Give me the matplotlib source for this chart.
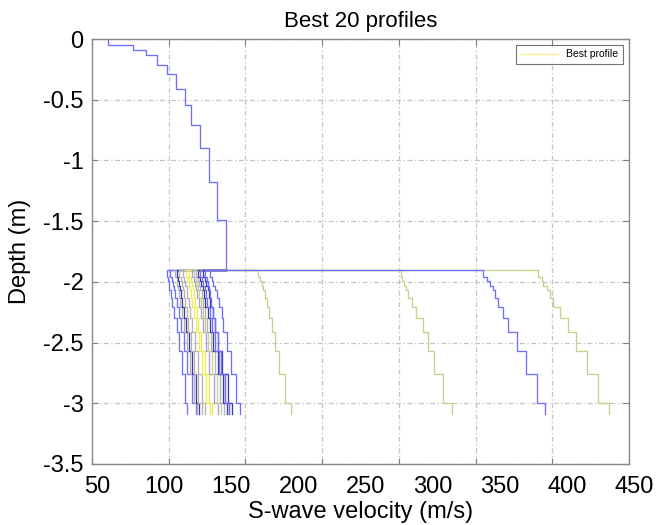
import numpy as np
import matplotlib.pyplot as plt
from matplotlib.lines import Line2D
from matplotlib.transforms import ScaledTranslation

plt.rcParams['font.family'] = ['Liberation Sans', 'DejaVu Sans']
plt.rcParams['axes.unicode_minus'] = False

# layer boundaries (m), shared by every profile
top_bounds = [0, 0.05, 0.09, 0.13, 0.21, 0.29, 0.41, 0.54, 0.71, 0.90, 1.18, 1.49, 1.9]
deep_bounds = [1.9, 1.96, 1.99, 2.03, 2.07, 2.13, 2.21, 2.30, 2.41, 2.57, 2.76, 3.0, 3.09]

# fixed upper part (m/s)
top_vs = [62.1, 80.3, 90.2, 98.6, 106.0, 112.6, 119.1, 124.0, 130.4, 137.1, 143.3, 149.8]

# lower part of the 20 best profiles (m/s), one list per profile
vs_01 = [106.0, 106.5, 107.0, 107.5, 108.5, 109.5, 111.0, 113.0, 114.9, 116.7, 119.2, 120.9]
vs_02 = [108.1, 109.5, 110.2, 111.2, 112.0, 113.0, 114.5, 116.1, 118.4, 121.1, 124.6, 127.5]
vs_03 = [111.8, 113.0, 113.6, 114.4, 115.1, 115.9, 117.2, 118.5, 120.5, 122.8, 125.7, 128.2]
vs_04 = [113.3, 114.4, 115.1, 115.9, 116.6, 117.4, 118.7, 120.0, 122.0, 124.3, 127.2, 129.7]
vs_05 = [114.8, 116.0, 116.7, 117.5, 118.2, 119.1, 120.4, 121.8, 123.9, 126.3, 129.3, 131.9]
vs_06 = [117.8, 118.9, 119.6, 120.4, 121.1, 121.9, 123.2, 124.5, 126.5, 128.8, 131.7, 134.2]
vs_07 = [120.0, 121.3, 122.0, 122.9, 123.6, 124.5, 125.9, 127.3, 129.5, 132.0, 135.2, 137.9]
vs_08 = [122.3, 123.5, 124.2, 125.0, 125.7, 126.6, 127.9, 129.3, 131.4, 133.8, 136.8, 139.4]
vs_09 = [124.5, 125.9, 126.6, 127.6, 128.4, 129.4, 130.9, 132.5, 134.8, 137.5, 141.0, 143.9]
vs_10 = [126.0, 127.4, 128.2, 129.2, 130.0, 131.0, 132.6, 134.2, 136.7, 139.5, 143.1, 146.1]
vs_11 = [127.5, 129.0, 129.8, 130.8, 131.7, 132.7, 134.4, 136.0, 138.5, 141.4, 145.2, 148.3]
vs_12 = [129.0, 130.5, 131.4, 132.5, 133.3, 134.4, 136.1, 137.9, 140.4, 143.5, 147.4, 150.6]
vs_13 = [130.4, 131.9, 132.8, 133.9, 134.7, 135.8, 137.6, 139.3, 141.9, 144.9, 148.8, 152.1]
vs_14 = [132.7, 134.2, 135.1, 136.2, 137.0, 138.1, 139.8, 141.6, 144.1, 147.2, 151.1, 154.3]
vs_15 = [134.2, 135.4, 136.2, 137.0, 137.8, 138.7, 140.1, 141.5, 143.6, 146.1, 149.3, 152.0]
vs_16 = [137.9, 139.2, 140.4, 141.7, 142.9, 144.9, 146.7, 147.9, 150.4, 153.4, 157.4, 160.2]
vs_17 = [173.8, 175.1, 176.3, 177.5, 178.8, 180.0, 181.8, 183.8, 186.3, 189.3, 193.7, 198.2]
vs_18 = [279.9, 281.1, 282.4, 283.9, 285.6, 288.1, 291.4, 296.3, 300.5, 304.8, 311.7, 318.0]
vs_19 = [382.2, 385.0, 386.2, 388.7, 391.2, 393.6, 398.6, 404.8, 410.5, 418.5, 427.1, 435.3]
vs_20 = [341.5, 344.5, 346.5, 349.0, 350.3, 352.7, 356.5, 360.2, 366.5, 373.2, 381.4, 387.4]

blue = '#6e6eff'
navy = '#3c3ca0'
grey = '#b4b4b4'
lilac = '#a0a0dc'
yellow = '#eded55'
olive = '#cdcd8c'

profiles = [vs_01, vs_02, vs_03, vs_04, vs_05, vs_06, vs_07, vs_08, vs_09, vs_10,
            vs_11, vs_12, vs_13, vs_14, vs_15, vs_16, vs_17, vs_18, vs_19, vs_20]
colors = [blue, blue, grey, navy, grey, grey, yellow, yellow, lilac, olive,
          grey, navy, blue, navy, blue, blue, olive, olive, olive, blue]


def stairs(vs, bounds):
    # vertical segment per layer, horizontal jump at each interface
    xs = np.repeat(np.asarray(vs, float), 2)
    ys = -np.repeat(np.asarray(bounds, float), 2)[1:-1]
    return xs, ys


fig = plt.figure(figsize=(6.6, 5.25), dpi=100)
ax = fig.add_axes([0.1394, 0.1162, 0.8136, 0.8095])

# lower parts hang off the bottom of the shared upper part
for vs, c in zip(profiles, colors):
    xs, ys = stairs(vs, deep_bounds)
    xs = np.r_[top_vs[-1], xs]
    ys = np.r_[-deep_bounds[0], ys]
    ax.plot(xs, ys, color=c, lw=0.95, zorder=3)

# shared upper part
xs, ys = stairs(top_vs, top_bounds)
ax.plot(xs, ys, color=blue, lw=0.95, zorder=4)

ax.set_xlim(50, 450)
ax.set_ylim(-3.5, 0)

# grid / tick marks
ax.xaxis.remove_overlapping_locs = False
ax.set_xticks(np.linspace(50, 450, 8))
ax.set_xticklabels([])
ax.set_xticks(np.arange(50, 451, 50), minor=True)
ax.set_xticklabels([str(t) for t in range(50, 451, 50)], minor=True)
ax.tick_params(axis='x', which='minor', length=0, pad=9, labelsize=17)

yt = np.arange(0, -3.51, -0.5)
ax.set_yticks(yt)
ax.set_yticklabels(['0', '-0.5', '-1', '-1.5', '-2', '-2.5', '-3', '-3.5'])

ax.tick_params(axis='both', which='major', direction='in', length=4, width=0.8,
               color='#808080', top=True, right=True, labelsize=17)
ax.tick_params(axis='y', pad=6)
ax.grid(True, which='major', color='#c4c4c4', lw=0.9, ls=(0, (4, 2, 1, 2)))
for s in ax.spines.values():
    s.set_color('#8a8a8a')
    s.set_linewidth(1.0)

# velocity labels sit a few pixels right of their nominal spots
shift = ScaledTranslation(5 / 100, 0, fig.dpi_scale_trans)
for lbl in ax.get_xticklabels(minor=True):
    lbl.set_transform(lbl.get_transform() + shift)

ax.set_title('Best 20 profiles', fontsize=16, pad=9)
ax.set_xlabel('S-wave velocity (m/s)', fontsize=17, labelpad=2)
ax.set_ylabel('Depth (m)', fontsize=17, labelpad=9)

handle = Line2D([], [], color='#f0f08c', lw=1.0)
leg = ax.legend([handle], ['Best profile'], loc='upper right', fontsize=7.5,
                handlelength=3.6, fancybox=False, edgecolor='#505050',
                borderpad=0.4, borderaxespad=0.6)
leg.get_frame().set_linewidth(0.8)

fig.savefig('out.png', dpi=100)
